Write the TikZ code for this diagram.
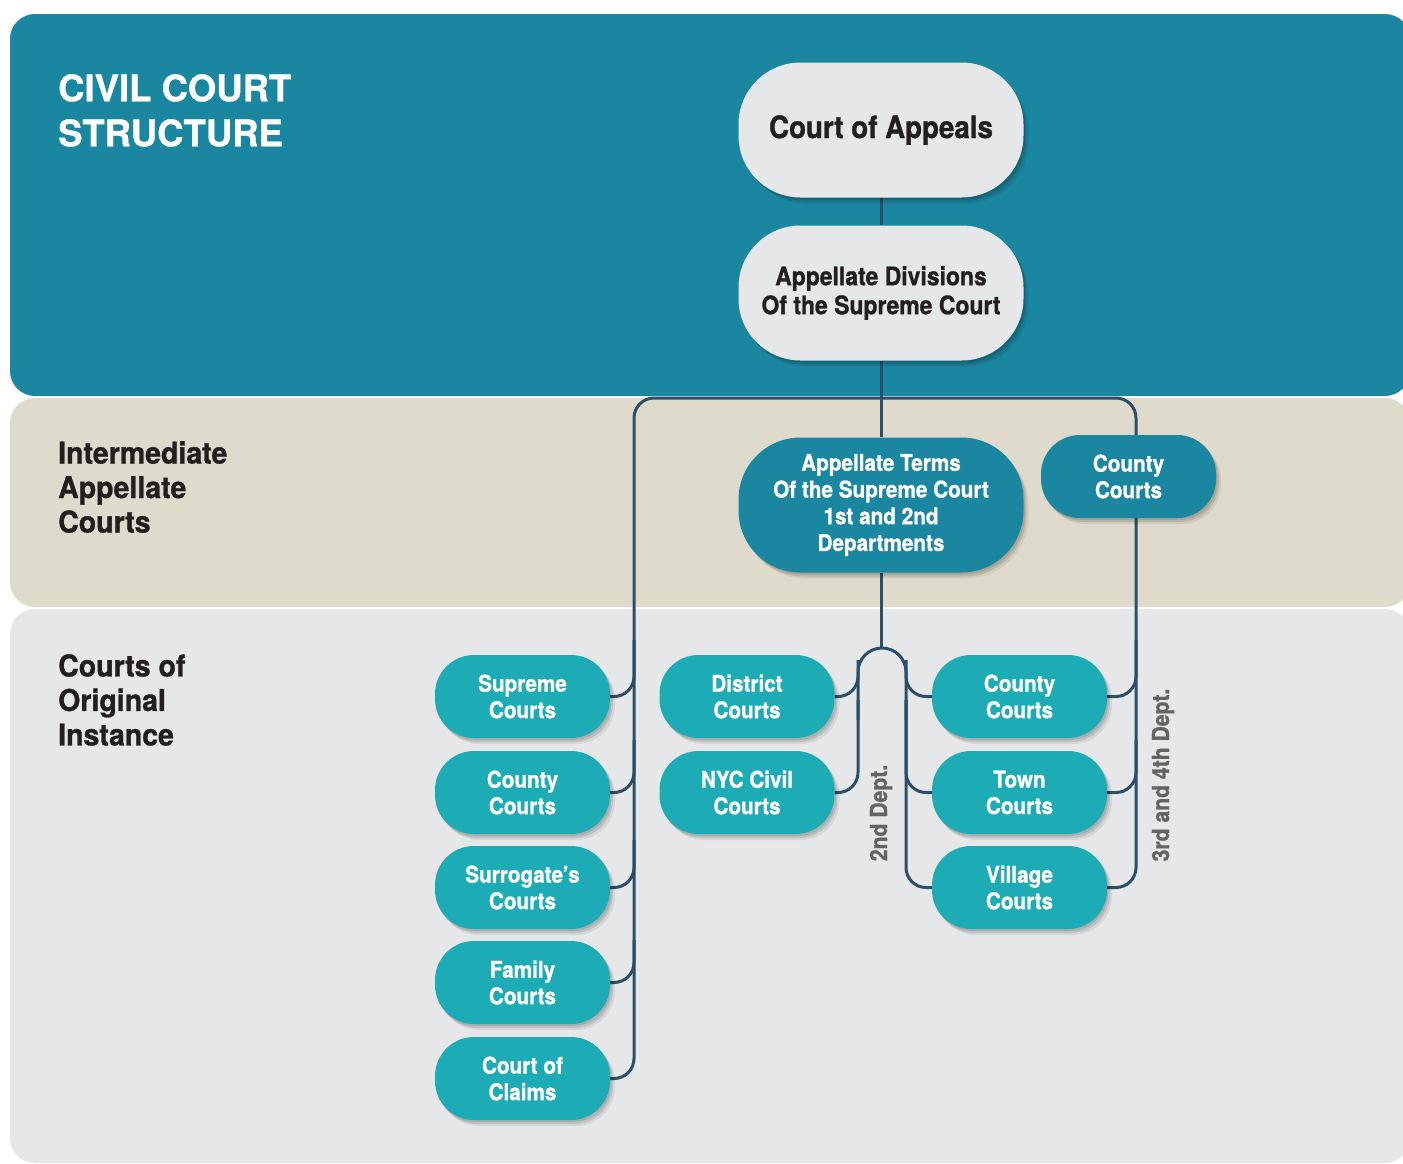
\documentclass[tikz,border=0pt]{standalone}
\usepackage{fontspec}
\setmainfont{TeX Gyre Heros}
\newfontfamily\condfont{TeX Gyre Heros}[FakeStretch=0.9, FakeBold=1]
\newfontfamily\labfont{TeX Gyre Heros}[FakeStretch=0.95, FakeBold=1]
\newfontfamily\titlefont{TeX Gyre Heros}[FakeBold=0.8]
\definecolor{bandteal}{RGB}{27,134,160}
\definecolor{bandbeige}{RGB}{223,219,204}
\definecolor{bandgray}{RGB}{230,231,232}
\definecolor{pilllight}{RGB}{230,231,232}
\definecolor{lowteal}{RGB}{29,172,181}
\definecolor{connblue}{RGB}{44,78,104}
\definecolor{darktext}{RGB}{35,31,32}
\definecolor{deptgray}{RGB}{99,100,102}
\pgfdeclarelayer{bands}
\pgfdeclarelayer{lines}
\pgfsetlayers{bands,lines,main}
\begin{document}
\begin{tikzpicture}[x=1pt,y=-1pt,
  pill/.style={rectangle, inner sep=0pt, align=center,
    preaction={fill=black, fill opacity=0.07, transform canvas={xshift=5pt, yshift=-6pt}},
    preaction={fill=black, fill opacity=0.10, transform canvas={xshift=3pt, yshift=-4pt}},
    preaction={fill=black, fill opacity=0.10, transform canvas={xshift=1.5pt, yshift=-2pt}}},
  bigpill/.style={pill, minimum width=285pt, minimum height=135pt, rounded corners=62pt},
  smallpill/.style={pill, minimum width=175pt, minimum height=83pt, rounded corners=39pt,
    fill=lowteal, text=white, font=\condfont\bfseries\fontsize{23}{26.5}\selectfont},
  conn/.style={draw=connblue, line width=3pt},
  sidelabel/.style={anchor=north west, inner sep=0pt, align=left, text=darktext,
    font=\labfont\bfseries\fontsize{30}{34.5}\selectfont},
  deptlabel/.style={rotate=90, inner sep=0pt, text=deptgray,
    font=\condfont\bfseries\fontsize{23.5}{26}\selectfont},
]
\useasboundingbox (0,0) rectangle (1403,1163);

% bands
\begin{pgfonlayer}{bands}
  \fill[bandteal, rounded corners=25pt] (10,14) rectangle (1410,396);
  \fill[bandbeige, rounded corners=25pt] (10,398) rectangle (1410,607);
  \fill[bandgray, rounded corners=25pt] (10,609) rectangle (1410,1163);
\end{pgfonlayer}

% titles
\node[anchor=north west, inner sep=0pt, align=left, text=white,
  font=\titlefont\bfseries\fontsize{36.5}{45}\selectfont] (title) at (58,74) {CIVIL COURT\\STRUCTURE};
\node[sidelabel] (intlab) at (58,441) {Intermediate\\Appellate\\Courts};
\node[sidelabel] (origlab) at (58,654) {Courts of\\Original\\Instance};

% top nodes
\node[bigpill, fill=pilllight, text=darktext, font=\condfont\bfseries\fontsize{30.8}{36}\selectfont]
  (capp) at (881,130) {\raisebox{-2pt}{Court of Appeals}};
\node[bigpill, fill=pilllight, text=darktext, font=\condfont\bfseries\fontsize{25.5}{29}\selectfont]
  (adiv) at (881,293) {Appellate Divisions\\Of the Supreme Court};
\node[bigpill, fill=bandteal, text=white, font=\condfont\bfseries\fontsize{23}{26.7}\selectfont]
  (aterm) at (881,505) {Appellate Terms\\Of the Supreme Court\\1st and 2nd\\Departments};
\node[smallpill, fill=bandteal] (icty) at (1128.5,476.5) {County\\Courts};

% original instance
\node[smallpill] (sup) at (522.5,696.5) {Supreme\\Courts};
\node[smallpill] (lcty) at (522.5,792.5) {County\\Courts};
\node[smallpill] (sur) at (522.5,887.5) {Surrogate’s\\Courts};
\node[smallpill] (fam) at (522.5,982.5) {Family\\Courts};
\node[smallpill] (claims) at (522.5,1078.5) {Court of\\Claims};
\node[smallpill] (dist) at (747,696.5) {District\\Courts};
\node[smallpill] (nyc) at (747,792.5) {NYC Civil\\Courts};
\node[smallpill] (rcty) at (1019.5,696.5) {County\\Courts};
\node[smallpill] (town) at (1019.5,792.5) {Town\\Courts};
\node[smallpill] (vil) at (1019.5,887.5) {Village\\Courts};

% dept labels
\node[deptlabel] (d2) at (881,813) {2nd Dept.};
\node[deptlabel] (d34) at (1163,775) {3rd and 4th Dept.};

% connectors
\coordinate (archtop) at (881,648);
\coordinate (topleft) at (634,398);
\coordinate (topright) at (1136,398);
\begin{pgfonlayer}{lines}
  \draw[conn] (capp) -- (adiv);
  \draw[conn] (adiv) -- (aterm);
  \draw[conn] (aterm) -- (archtop);
  \draw[conn, rounded corners=20pt] (claims.east) -| (topleft) -- (topright) |- (vil.east);
  \draw[conn, rounded corners=20pt] (sup.east) -| (634,640);
  \draw[conn, rounded corners=20pt] (lcty.east) -| (634,740);
  \draw[conn, rounded corners=20pt] (sur.east) -| (634,840);
  \draw[conn, rounded corners=20pt] (fam.east) -| (634,940);
  \draw[conn, rounded corners=24pt] (858,720) -- (858,648) -- (906,648) -- (906,720);
  \draw[conn, rounded corners=20pt] (dist.east) -| (858,660);
  \draw[conn, rounded corners=20pt] (nyc.east) -| (858,700);
  \draw[conn, rounded corners=20pt] (rcty.west) -| (906,660);
  \draw[conn, rounded corners=20pt] (town.west) -| (906,700);
  \draw[conn, rounded corners=20pt] (vil.west) -| (906,700);
  \draw[conn, rounded corners=20pt] (rcty.east) -| (1136,640);
  \draw[conn, rounded corners=20pt] (town.east) -| (1136,740);
\end{pgfonlayer}
\end{tikzpicture}
\end{document}
